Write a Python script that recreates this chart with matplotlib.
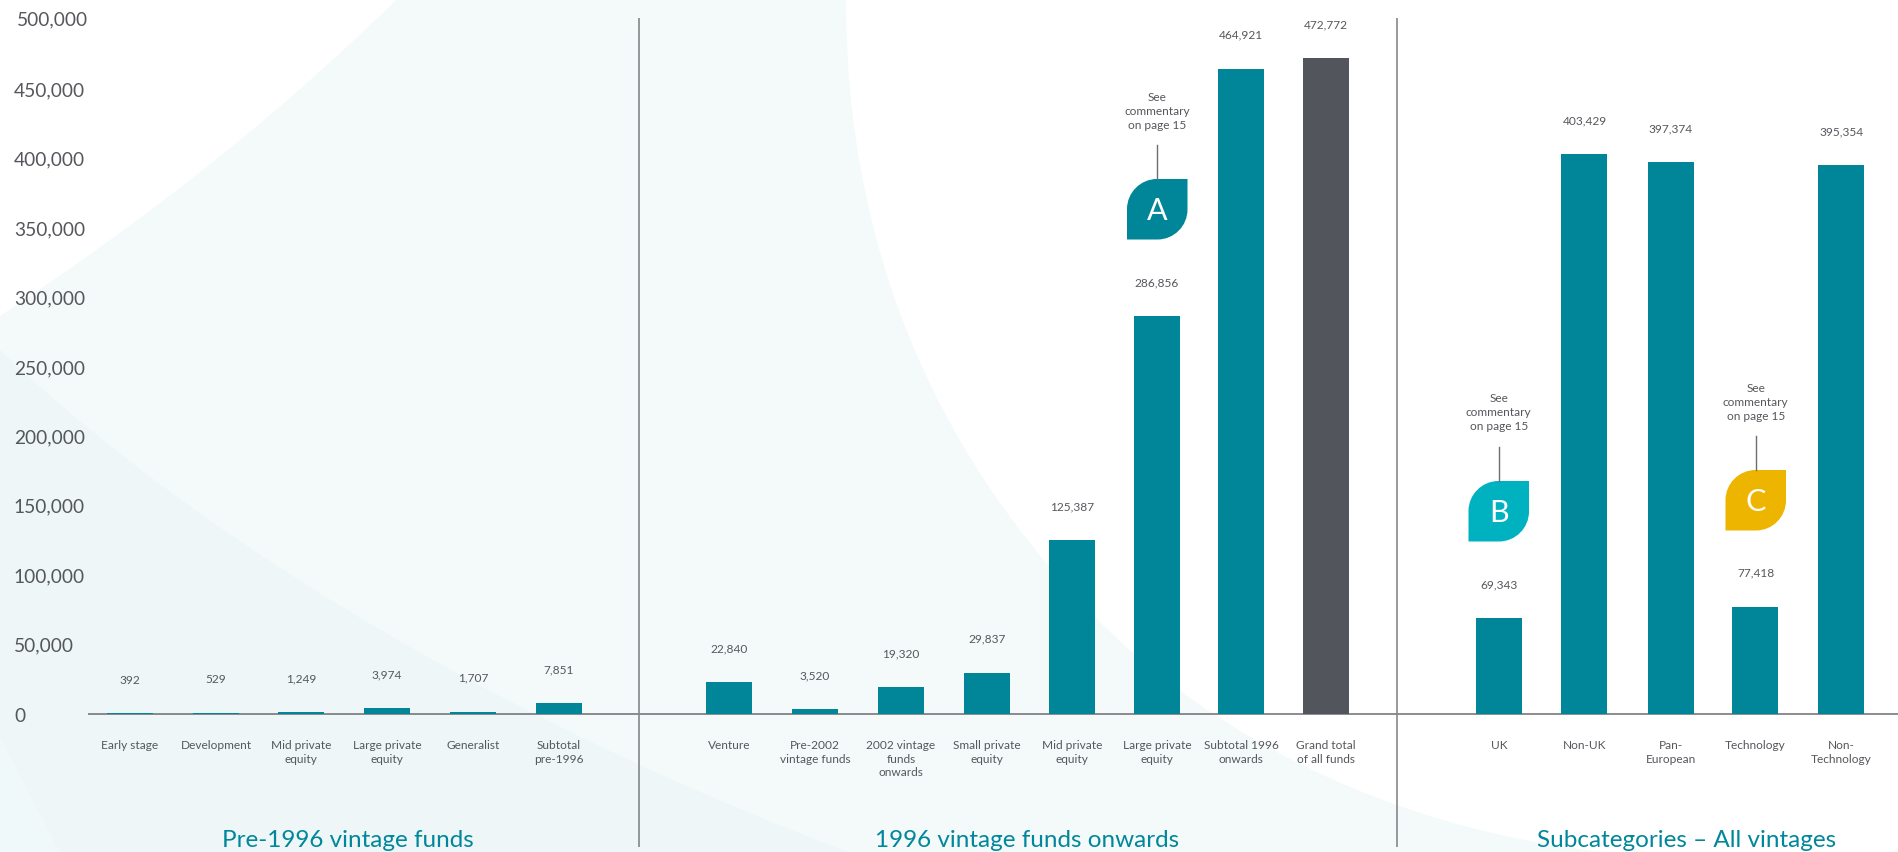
import matplotlib
matplotlib.use("Agg")
import matplotlib.pyplot as plt
from matplotlib.path import Path
from matplotlib.patches import PathPatch
from matplotlib.transforms import ScaledTranslation

plt.rcParams['font.family'] = ['Lato', 'DejaVu Sans']

# fund groups
pre96_labels = ["Early stage", "Development", "Mid private\nequity", "Large private\nequity",
                "Generalist", "Subtotal\npre-1996"]
pre96_values = [392, 529, 1249, 3974, 1707, 7851]

post96_labels = ["Venture", "Pre-2002\nvintage funds", "2002 vintage\nfunds\nonwards",
                 "Small private\nequity", "Mid private\nequity", "Large private\nequity",
                 "Subtotal 1996\nonwards", "Grand total\nof all funds"]
post96_values = [22840, 3520, 19320, 29837, 125387, 286856, 464921, 472772]

sub_labels = ["UK", "Non-UK", "Pan-\nEuropean", "Technology", "Non-\nTechnology"]
sub_values = [69343, 403429, 397374, 77418, 395354]

y_ticks = [0, 50000, 100000, 150000, 200000, 250000, 300000, 350000, 400000, 450000, 500000]

# bar centres, in pixels across the figure
pre96_x = [130, 216, 301, 387, 473, 559]
post96_x = [729, 815, 901, 987, 1072, 1157, 1241, 1326]
sub_x = [1499, 1584.5, 1671, 1755.5, 1841.5]

TEAL = "#008599"
DARK = "#52555c"
TEXT = "#55575c"
W, H = 1899, 853
BASE_Y = 715
UNITS_PER_PX = 500000 / 694

fig = plt.figure(figsize=(W / 100, H / 100), dpi=100, facecolor="white")

# backdrop layer works directly in pixels, y pointing down
bg = fig.add_axes([0, 0, 1, 1], zorder=0)
bg.set_xlim(0, W)
bg.set_ylim(H, 0)
bg.axis("off")

C4 = Path.CURVE4
L = Path.LINETO
M = Path.MOVETO

light = Path(
    [(0, 317), (135, 228), (270, 125), (397, 0), (846, 0), (846, 270), (950, 470), (1097, 620),
     (1180, 705), (1350, 825), (1603, 853), (0, 853), (0, 317)],
    [M, C4, C4, C4, L, C4, C4, C4, C4, C4, C4, L, L])
bg.add_patch(PathPatch(light, fc="#f4fafa", ec="none"))

darker = Path(
    [(0, 351), (230, 570), (560, 745), (848, 853), (0, 853), (0, 351)],
    [M, C4, C4, C4, L, L])
bg.add_patch(PathPatch(darker, fc="#eef6f7", ec="none"))

corner = Path([(0, 737), (60, 853), (0, 853), (0, 737)], [M, L, L, L])
bg.add_patch(PathPatch(corner, fc="#eff9fa", ec="none"))

# axis line and the two group dividers
bg.plot([88, W], [BASE_Y, BASE_Y], color="#6b6d72", lw=1.1, solid_capstyle="butt")
for sep_x in [639.5, 1397.5]:
    bg.plot([sep_x, sep_x], [19, 848], color="#85878a", lw=1.2, solid_capstyle="butt")


def leaf(x0, y0, colour, letter):
    # square with two opposite corners rounded
    s = 60.5
    r = 30
    k = 0.55 * r
    x1, y1 = x0 + s, y0 + s
    verts = [(x0, y1), (x0, y0 + r), (x0, y0 + r - k), (x0 + r - k, y0), (x0 + r, y0),
             (x1, y0), (x1, y1 - r), (x1, y1 - r + k), (x1 - r + k, y1), (x1 - r, y1), (x0, y1)]
    codes = [M, L, C4, C4, C4, L, L, C4, C4, C4, L]
    bg.add_patch(PathPatch(Path(verts, codes), fc=colour, ec="none"))
    cx = x0 + s / 2
    bg.text(cx, y0 + s / 2 + 1, letter, color="white", fontsize=22, ha="center", va="center")
    bg.plot([cx, cx], [y0 - 34, y0], color="#6b6d72", lw=1.0)
    bg.text(cx, y0 - 83, "See", color=TEXT, fontsize=8.6, ha="center", va="center")
    bg.text(cx, y0 - 69, "commentary", color=TEXT, fontsize=8.6, ha="center", va="center")
    bg.text(cx, y0 - 55, "on page 15", color=TEXT, fontsize=8.6, ha="center", va="center")


leaf(1127, 180, TEAL, "A")
leaf(1468.5, 482, "#00b2c0", "B")
leaf(1725.5, 471, "#eeb500", "C")

for title, cx in [("Pre-1996 vintage funds", 347.5), ("1996 vintage funds onwards", 1027),
                  ("Subcategories – All vintages", 1687)]:
    bg.text(cx, 841, title, color="#00879b", fontsize=17.5, ha="center", va="center")

# the bars themselves, on a value scale with 0 at the axis line
ax = fig.add_axes([0, 0, 1, 1], zorder=1)
ax.patch.set_visible(False)
ax.set_xlim(0, W)
ax.set_ylim(-(H - BASE_Y) * UNITS_PER_PX, BASE_Y * UNITS_PER_PX)
for side in ax.spines.values():
    side.set_visible(False)

ax.set_xticks([])
ax.set_yticks(y_ticks)
ax.set_yticklabels([f"{v:,}" for v in y_ticks], ha="left", color=TEXT, fontsize=13.8)
ax.tick_params(axis="y", length=0, pad=-10)

# labels sit a touch above their gridline; the top one is also inset
for tick_label, v in zip(ax.get_yticklabels(), y_ticks):
    dx = 3.5 if v == 500000 else 0
    dy = 2.5 if v == 500000 else (0 if v == 0 else 1)
    tick_label.set_transform(tick_label.get_transform()
                             + ScaledTranslation(dx / 100, dy / 100, fig.dpi_scale_trans))

all_x = pre96_x + post96_x + sub_x
all_values = pre96_values + post96_values + sub_values
all_labels = pre96_labels + post96_labels + sub_labels
colours = [TEAL] * len(all_x)
colours[len(pre96_x) + len(post96_x) - 1] = DARK

ax.bar(all_x, all_values, width=46, color=colours)

for x, v, lab in zip(all_x, all_values, all_labels):
    ax.annotate(f"{v:,}", (x, v), xytext=(0, 24.7), textcoords="offset points",
                ha="center", va="center", color=TEXT, fontsize=8.6)
    ax.annotate(lab, (x, 0), xytext=(0, -18), textcoords="offset points",
                ha="center", va="top", color=TEXT, fontsize=8.6, linespacing=1.3)

fig.savefig("out.png", dpi=100)
plt.close(fig)
